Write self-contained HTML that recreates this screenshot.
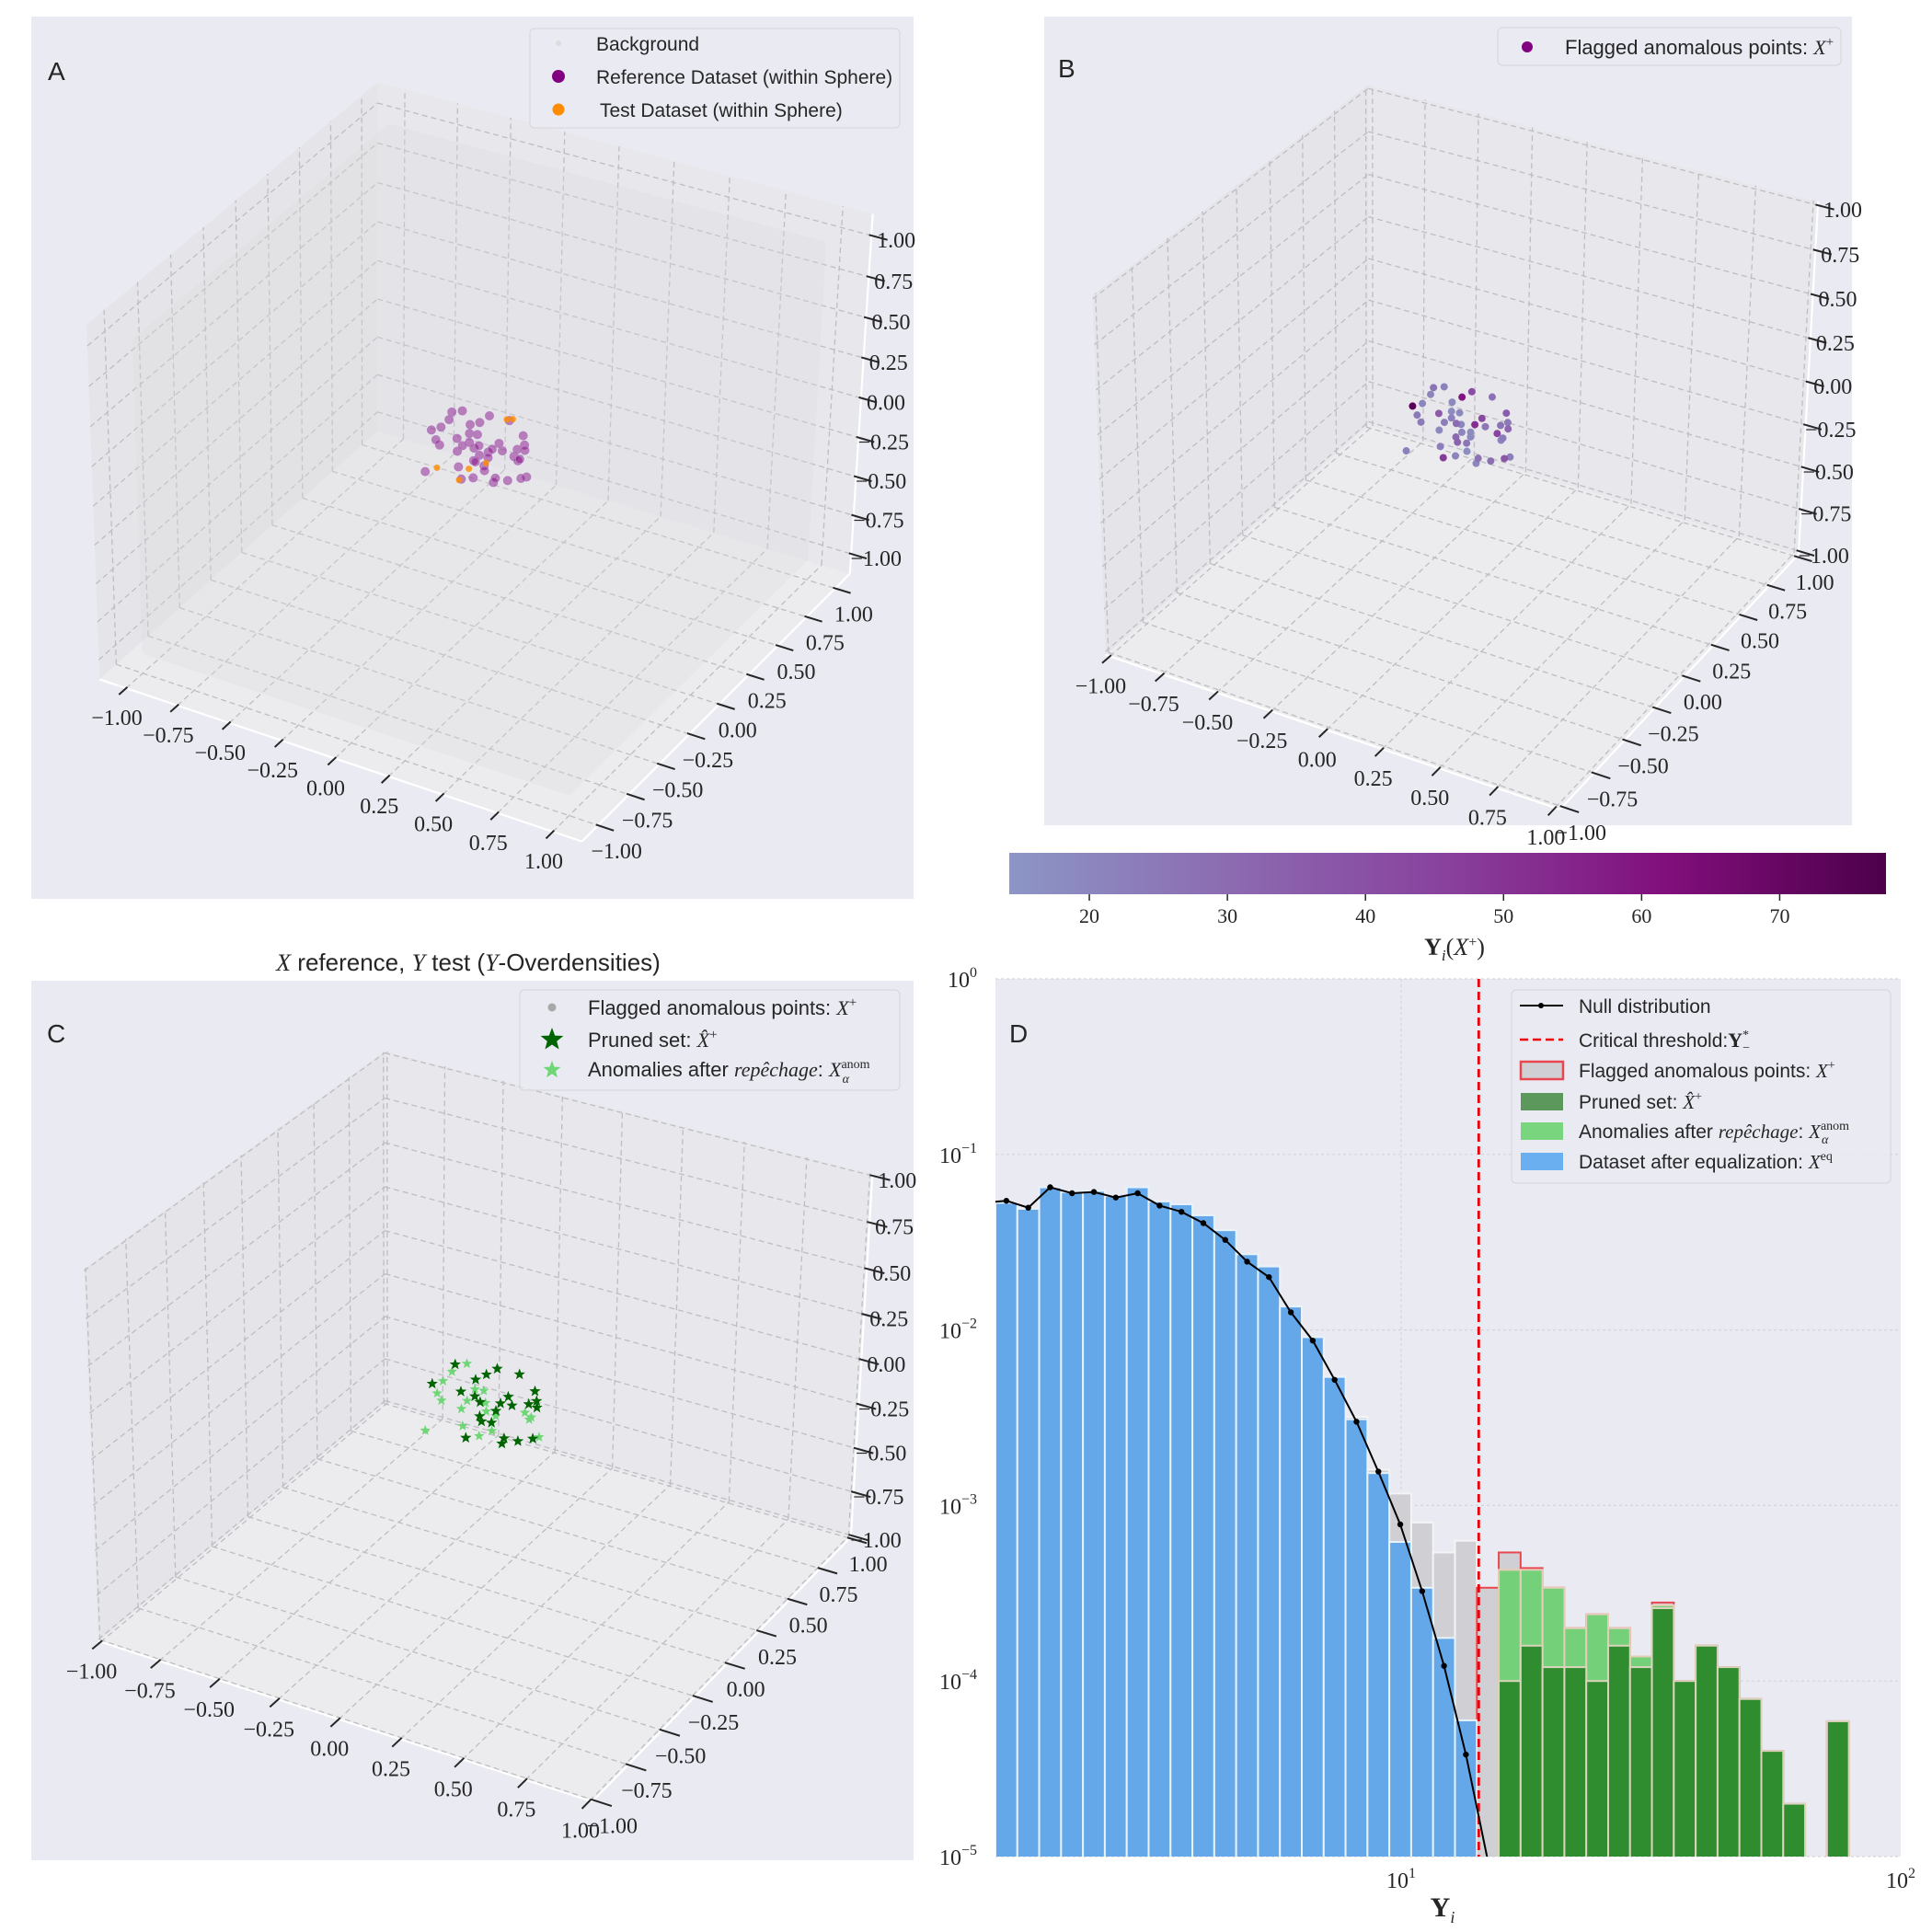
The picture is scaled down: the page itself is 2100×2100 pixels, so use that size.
<!DOCTYPE html>
<html><head><meta charset="utf-8"><style>
html,body{margin:0;padding:0;background:#fff}
svg{display:block}
.s{font-family:"Liberation Sans",sans-serif;fill:#262626}
.r{font-family:"Liberation Serif",serif;fill:#262626}
</style></head><body>
<svg id="fig" xmlns="http://www.w3.org/2000/svg" width="2100" height="2100" viewBox="0 0 2100 2100">
<defs>
<linearGradient id="bupu" x1="0" x2="1" y1="0" y2="0">
<stop offset="0" stop-color="#8c96c6"/><stop offset="0.25" stop-color="#8c6bb1"/><stop offset="0.5" stop-color="#88419d"/><stop offset="0.75" stop-color="#810f7c"/><stop offset="1" stop-color="#4d004b"/>
</linearGradient>
<clipPath id="dclip"><rect x="1082" y="1064" width="984" height="954"/></clipPath>
</defs>
<rect x="0" y="0" width="2100" height="2100" fill="#fff"/>
<rect x="34" y="18" width="959" height="959" fill="#EAEAF2"/>
<rect x="1135" y="18" width="878" height="879" fill="#EAEAF2"/>
<rect x="34" y="1066" width="959" height="956" fill="#EAEAF2"/>
<rect x="1082" y="1064" width="984" height="954" fill="#EAEAF2"/>
<g id="gA"></g>
<g id="gB"></g>
<g id="gC"></g>
<g id="gD"></g>

<text class="s" x="52" y="87" font-size="28">A</text>
<text class="s" x="1150" y="84" font-size="28">B</text>
<text class="s" x="51" y="1133" font-size="28">C</text>
<text class="s" x="1097" y="1133" font-size="28">D</text>

<text class="s" x="509" y="1055" font-size="26" text-anchor="middle"><tspan class="r" font-style="italic">X</tspan> reference, <tspan class="r" font-style="italic">Y</tspan> test (<tspan class="r" font-style="italic">Y</tspan>-Overdensities)</text>

<g>
<rect x="576" y="31" width="402" height="108" rx="5" fill="#EAEAF2" fill-opacity="0.8" stroke="#d4d4da"/>
<circle cx="607" cy="47" r="3" fill="#dcdcdc"/>
<text class="s" x="648" y="55" font-size="21">Background</text>
<circle cx="607" cy="83" r="7" fill="#800080"/>
<text class="s" x="648" y="91" font-size="21">Reference Dataset (within Sphere)</text>
<circle cx="607" cy="119" r="6.5" fill="#ff8c00"/>
<text class="s" x="652" y="127" font-size="21">Test Dataset (within Sphere)</text>
</g>
<g>
<rect x="1628" y="30" width="373" height="41" rx="5" fill="#EAEAF2" fill-opacity="0.8" stroke="#d4d4da"/>
<circle cx="1660" cy="51" r="6" fill="#800080"/>
<text class="s" x="1701" y="59" font-size="22">Flagged anomalous points: <tspan class="r" font-style="italic">X</tspan><tspan class="r" font-size="15" dy="-9">+</tspan></text>
</g>
<g id="legC">
<rect x="565" y="1076" width="413" height="109" rx="5" fill="#EAEAF2" fill-opacity="0.8" stroke="#d4d4da"/>
<circle cx="600" cy="1095" r="4.5" fill="#a8a8a8"/>
<text class="s" x="639" y="1103" font-size="22">Flagged anomalous points: <tspan class="r" font-style="italic">X</tspan><tspan class="r" font-size="15" dy="-9">+</tspan></text>
<text class="s" x="639" y="1138" font-size="22">Pruned set: <tspan class="r" font-style="italic">X̂</tspan><tspan class="r" font-size="15" dy="-9">+</tspan></text>
<text class="s" x="639" y="1170" font-size="22">Anomalies after <tspan class="r" font-style="italic">repêchage</tspan>: <tspan class="r" font-style="italic">X</tspan><tspan class="r" font-size="14" dy="-9">anom</tspan><tspan class="r" font-size="14" dx="-30" dy="16" font-style="italic">α</tspan></text>
</g>
<g id="cbar">
<rect x="1097" y="927" width="953" height="45" fill="url(#bupu)"/>
<text class="r" x="1581" y="1038" font-size="26" text-anchor="middle" font-weight="bold">Υ<tspan font-size="17" dy="6" font-style="italic" font-weight="normal">i</tspan><tspan dy="-6" font-weight="normal">(</tspan><tspan font-style="italic" font-weight="normal">X</tspan><tspan font-size="16" dy="-9" font-weight="normal">+</tspan><tspan dy="9" font-weight="normal">)</tspan></text>
</g>
<g>
<rect x="1643" y="1076" width="412" height="210" rx="5" fill="#EAEAF2" fill-opacity="0.8" stroke="#d4d4da"/>
<line x1="1652" y1="1093" x2="1699" y2="1093" stroke="#000" stroke-width="2"/><circle cx="1675" cy="1093" r="3" fill="#000"/>
<text class="s" x="1716" y="1101" font-size="21">Null distribution</text>
<line x1="1652" y1="1130" x2="1699" y2="1130" stroke="#e8000b" stroke-width="2.5" stroke-dasharray="9,5"/>
<text class="s" x="1716" y="1138" font-size="21">Critical threshold:<tspan class="r" font-weight="bold" font-size="22">Υ</tspan><tspan class="r" font-size="14" dy="-9">*</tspan><tspan class="r" font-size="14" dx="-7" dy="14">−</tspan></text>
<rect x="1653" y="1154" width="46" height="19" fill="#d0d0d4" stroke="#e8474f" stroke-width="2.5"/>
<text class="s" x="1716" y="1171" font-size="21">Flagged anomalous points: <tspan class="r" font-style="italic">X</tspan><tspan class="r" font-size="14" dy="-9">+</tspan></text>
<rect x="1653" y="1188" width="46" height="19" fill="#5c985c"/>
<text class="s" x="1716" y="1205" font-size="21">Pruned set: <tspan class="r" font-style="italic">X̂</tspan><tspan class="r" font-size="14" dy="-9">+</tspan></text>
<rect x="1653" y="1220" width="46" height="19" fill="#79d67e"/>
<text class="s" x="1716" y="1237" font-size="21">Anomalies after <tspan class="r" font-style="italic">repêchage</tspan>: <tspan class="r" font-style="italic">X</tspan><tspan class="r" font-size="14" dy="-9">anom</tspan><tspan class="r" font-size="14" dx="-30" dy="15" font-style="italic">α</tspan></text>
<rect x="1653" y="1253" width="46" height="19" fill="#6aaff0"/>
<text class="s" x="1716" y="1270" font-size="21">Dataset after equalization: <tspan class="r" font-style="italic">X</tspan><tspan class="r" font-size="14" dy="-9">eq</tspan></text>
</g>
</svg>
<script>
const axisTicks = [-1,-0.75,-0.5,-0.25,0,0.25,0.5,0.75,1];
const axisTickLabels = ["−1.00","−0.75","−0.50","−0.25","0.00","0.25","0.50","0.75","1.00"];
const refX = [0.02,-0.12,0.15,0.08,-0.05,0.18,-0.17,0.11,-0.02,0.06,-0.14,0.13,-0.09,0.04,0.19,-0.19,0.09,-0.07,0.16,-0.11,0.01,-0.16,0.12,0.05,-0.03,0.14,-0.13,0.07,-0.08,0.17,-0.18,0.10,-0.01,0.03,-0.15,0.20,-0.06,0.11,-0.10,0.00,0.15,-0.04,0.08,-0.12,0.13];
const refY = [-0.10,0.05,0.12,-0.17,0.18,-0.02,0.09,0.14,-0.13,0.03,-0.06,-0.11,0.16,0.19,0.07,-0.04,-0.19,0.11,-0.08,0.13,0.00,-0.14,0.04,-0.07,0.15,0.10,0.17,-0.15,-0.01,0.06,0.02,-0.12,0.08,-0.18,0.14,-0.03,0.12,0.18,-0.16,0.09,-0.09,-0.05,0.01,-0.02,0.16];
const refZ = [0.14,-0.08,0.02,0.10,-0.15,0.06,0.12,-0.11,0.17,-0.19,0.03,0.15,-0.04,0.08,-0.13,0.09,0.01,-0.17,0.13,-0.02,0.19,-0.09,-0.16,0.05,0.11,-0.06,0.00,0.16,-0.12,-0.14,0.07,0.04,-0.18,-0.03,0.10,0.12,-0.07,0.02,0.15,-0.10,0.18,0.06,-0.14,0.17,-0.05];
const testX = [0.05,-0.14,0.12,-0.06,0.02,0.10];
const testY = [0.15,-0.08,-0.14,0.04,-0.18,0.11];
const testZ = [0.12,-0.10,0.08,-0.16,-0.04,0.17];
const flaggedVals = [22,19,25,31,18,45,27,21,36,20,24,52,19,28,23,74,21,33,26,18,60,22,29,20,41,24,19,30,23,38,21,26,17,48,22,27,20,35,25,19,43,23,28,21,32];
const prunedIdx = [0,2,4,6,8,11,13,15,17,20,22,24,26,29,31,33,35,37,40,42,44,3,9,18,27];
const repechIdx = [1,5,7,10,12,14,16,19,21,23,25,28,30,32,34,36,38,39,41,43];
const binLogStart = 0.188, binLogWidth = 0.0438;
const blueVals = [0.053,0.049,0.065,0.061,0.062,0.058,0.065,0.054,0.052,0.045,0.037,0.027,0.023,0.0136,0.0091,0.0054,0.0031,0.00153,0.00062,0.00034,0.000176,0.0000597];
const flaggedHist = [0.053,0.049,0.065,0.061,0.062,0.058,0.065,0.054,0.052,0.045,0.037,0.027,0.023,0.0136,0.0091,0.0054,0.0032,0.0016,0.00117,0.0008,0.00054,0.00063,0.00034,0.00054,0.00044,0.00034,0.0002,0.00024,0.0002,0.000138,0.00028,0.0001,0.000159,0.00012,0.000079,0.00004,0.00002,0,0.000059];
const lightHist = [0,0,0,0,0,0,0,0,0,0,0,0,0,0,0,0,0,0,0,0,0,0,0,0.00043,0.00043,0.00034,0.0002,0.00024,0.0002,0.000138,0.00027,0,0,0,0,0,0,0,0];
const darkHist = [0,0,0,0,0,0,0,0,0,0,0,0,0,0,0,0,0,0,0,0,0,0,0,0.0001,0.000159,0.00012,0.00012,0.0001,0.000159,0.00012,0.00026,0.0001,0.000159,0.00012,0.000079,0.00004,0.00002,0,0.000059];
const nullBinIdx = [-1,0,1,2,3,4,5,6,7,8,9,10,11,12,13,14,15,16,17,18,19,20,21,22];
const nullVals = [0.053,0.0544,0.0497,0.065,0.0601,0.0611,0.0568,0.0601,0.0511,0.0471,0.0406,0.0326,0.0245,0.020,0.0126,0.0087,0.0052,0.0030,0.00156,0.00078,0.000325,0.000122,0.0000381,0.0000095];
const thresholdValue = 14.3;
const yDecades = [0,-1,-2,-3,-4,-5];
const xDecades = [1,2];
const cbarTicks = [20,30,40,50,60,70];
const cbarMin = 14.2, cbarMax = 77.7;

const NS="http://www.w3.org/2000/svg";
function mk(tag, attrs, parent){const e=document.createElementNS(NS,tag);for(const k in attrs)e.setAttribute(k,attrs[k]);parent.appendChild(e);return e;}
function solve(A,b){const n=b.length;for(let i=0;i<n;i++){let mx=i;for(let r=i+1;r<n;r++)if(Math.abs(A[r][i])>Math.abs(A[mx][i]))mx=r;[A[i],A[mx]]=[A[mx],A[i]];[b[i],b[mx]]=[b[mx],b[i]];for(let r=i+1;r<n;r++){const f=A[r][i]/A[i][i];for(let c=i;c<n;c++)A[r][c]-=f*A[i][c];b[r]-=f*b[i];}}const x=new Array(n).fill(0);for(let i=n-1;i>=0;i--){let s=b[i];for(let c=i+1;c<n;c++)s-=A[i][c]*x[c];x[i]=s/A[i][i];}return x;}
function fitP(corr){const rows=[],rhs=[];for(const [X,Y,Z,u,v] of corr){rows.push([X,Y,Z,1,0,0,0,0,-u*X,-u*Y,-u*Z]);rhs.push(u);rows.push([0,0,0,0,X,Y,Z,1,-v*X,-v*Y,-v*Z]);rhs.push(v);}
 const N=[],r=[];for(let i=0;i<11;i++){N.push(new Array(11).fill(0));r.push(0);}
 rows.forEach((row,k)=>{for(let i=0;i<11;i++){r[i]+=row[i]*rhs[k];for(let j=0;j<11;j++)N[i][j]+=row[i]*row[j];}});
 for(let i=0;i<11;i++)N[i][i]+=1e-9;
 return solve(N,r);}
function projF(p){return (X,Y,Z)=>{const w=p[8]*X+p[9]*Y+p[10]*Z+1;return [(p[0]*X+p[1]*Y+p[2]*Z+p[3])/w,(p[4]*X+p[5]*Y+p[6]*Z+p[7])/w];};}
function pts(a){return a.map(q=>q[0].toFixed(1)+","+q[1].toFixed(1)).join(" ");}
function hull(P){P=P.slice().sort((a,b)=>a[0]-b[0]||a[1]-b[1]);const cr=(o,a,b)=>(a[0]-o[0])*(b[1]-o[1])-(a[1]-o[1])*(b[0]-o[0]);const lo=[],up=[];for(const p of P){while(lo.length>=2&&cr(lo[lo.length-2],lo[lo.length-1],p)<=0)lo.pop();lo.push(p);}for(const p of P.slice().reverse()){while(up.length>=2&&cr(up[up.length-2],up[up.length-1],p)<=0)up.pop();up.push(p);}return lo.slice(0,-1).concat(up.slice(0,-1));}
function starPath(cx,cy,R){let d="";for(let i=0;i<10;i++){const r=i%2?R*0.42:R;const a=-Math.PI/2+i*Math.PI/5;d+=(i?"L":"M")+(cx+r*Math.cos(a)).toFixed(1)+","+(cy+r*Math.sin(a)).toFixed(1);}return d+"Z";}
function cmap(v){const stops=[[0,[140,150,198]],[0.25,[140,107,177]],[0.5,[136,65,157]],[0.75,[129,15,124]],[1,[77,0,75]]];let t=(v-cbarMin)/(cbarMax-cbarMin);t=Math.max(0,Math.min(1,t));for(let i=1;i<stops.length;i++){if(t<=stops[i][0]){const a=stops[i-1],b=stops[i];const f=(t-a[0])/(b[0]-a[0]);return "rgb("+a[1].map((c,k)=>Math.round(c+(b[1][k]-c)*f)).join(",")+")";}}return "rgb(77,0,75)";}

function panel3d(g, m, corr, name){
 const P=projF(fitP(corr));
 const panes=[
  ["left-wall",[[-m,-m,-m],[-m,m,-m],[-m,m,m],[-m,-m,m]],"#E5E5E9"],
  ["right-wall",[[-m,m,-m],[m,m,-m],[m,m,m],[-m,m,m]],"#E8E8EC"],
  ["floor",[[-m,-m,-m],[m,-m,-m],[m,m,-m],[-m,m,-m]],"#ECECEF"]];
 panes.forEach(pn=>{const e=mk("polygon",{points:pts(pn[1].map(q=>P(...q))),fill:pn[2]},g);
  
  });
 const gg=mk("g",{stroke:"#bdbdc2","stroke-width":"1.3","stroke-dasharray":"6,4",fill:"none"},g);
 
 
 axisTicks.forEach(t=>{
  const segs=[[[t,-m,-m],[t,m,-m]],[[-m,t,-m],[m,t,-m]],[[-m,t,-m],[-m,t,m]],[[-m,-m,t],[-m,m,t]],[[t,m,-m],[t,m,m]],[[-m,m,t],[m,m,t]]];
  segs.forEach(s=>{const a=P(...s[0]),b=P(...s[1]);mk("line",{x1:a[0],y1:a[1],x2:b[0],y2:b[1]},gg);});
 });
 return P;
}
function axesDecor(g,m,P,name){
 const eg=mk("g",{stroke:"#ffffff","stroke-width":"2.2"},g);
 
 
 [[[-m,-m,-m],[m,-m,-m]],[[m,-m,-m],[m,m,-m]],[[m,m,-m],[m,m,m]]].forEach(s=>{const a=P(...s[0]),b=P(...s[1]);mk("line",{x1:a[0],y1:a[1],x2:b[0],y2:b[1]},eg);});
 const tg=mk("g",{stroke:"#262626","stroke-width":"2"},g);
 
 
 const lg=mk("g",{"font-family":"Liberation Serif, serif","font-size":"24",fill:"#262626","text-anchor":"middle"},g);
 
 
 axisTicks.forEach((t,i)=>{
  let a=P(t,-m+0.01,-m),b=P(t,-m-0.055,-m);mk("line",{x1:a[0],y1:a[1],x2:b[0],y2:b[1]},tg);
  let e=P(t,-m,-m);let tx=mk("text",{x:e[0]-10,y:e[1]+40},lg);tx.textContent=axisTickLabels[i];
  
  
  a=P(m-0.01,t,-m);b=P(m+0.07,t,-m);mk("line",{x1:a[0],y1:a[1],x2:b[0],y2:b[1]},tg);
  e=P(m,t,-m);tx=mk("text",{x:e[0]+20,y:e[1]+36},lg);tx.textContent=axisTickLabels[i];
  
  
  a=P(m-0.01,m,t);b=P(m+0.07,m,t);mk("line",{x1:a[0],y1:a[1],x2:b[0],y2:b[1]},tg);
  e=P(m,m,t);tx=mk("text",{x:e[0]+27,y:e[1]+13},lg);tx.textContent=axisTickLabels[i];
  
  
 });
}

const mA=1.13;
const gA=document.getElementById("gA");
const PA=panel3d(gA,mA,[[-1,-mA,-mA,137,747],[0,-mA,-mA,366,822],[0.75,-mA,-mA,544,882],[mA,-mA,-mA,643,912],[-mA,-mA,-mA,105,737],[mA,mA,-mA,928,620],[mA,0,-mA,755,791],[mA,1,-mA,907,637],[mA,-1,-mA,658,891],[mA,mA,-1,929,598],[mA,mA,1,945,252],[-mA,mA,mA,418,91],[-mA,-mA,mA,88,355]],"panel-a");
{const corners=[];for(const x of [-1,1])for(const y of [-1,1])for(const z of [-1,1])corners.push(PA(x,y,z));
 const bg=mk("polygon",{points:pts(hull(corners)),fill:"#dcdcdf","fill-opacity":"0.3"},gA);
 
 }
refX.forEach((x,i)=>{const q=PA(x,refY[i],refZ[i]);const c=mk("circle",{cx:q[0],cy:q[1],r:4.5,fill:"#800080","fill-opacity":"0.45",stroke:"#b47cc0","stroke-width":"1"},gA);
 
 });
testX.forEach((x,i)=>{const q=PA(x,testY[i],testZ[i]);const c=mk("circle",{cx:q[0],cy:q[1],r:3.5,fill:"#ff8c00","fill-opacity":"0.8"},gA);
 
 });
axesDecor(gA,mA,PA,"panel-a");

const mB=1.02;
const gB=document.getElementById("gB");
const PB=panel3d(gB,mB,[[-1,-mB,-mB,1209,716],[0,-mB,-mB,1442,796],[1,-mB,-mB,1686,879],[mB,-1,-mB,1698,875],[mB,0,-mB,1833,734],[mB,1,-mB,1950,605],[mB,mB,1,1975,226],[mB,mB,0,1971,413],[mB,mB,-1,1955,599],[-mB,mB,mB,1485,94],[-mB,-mB,mB,1188,317],[-mB,mB,-mB,1487,460]],"panel-b");
const orderB=refX.map((_,i)=>i).sort((a,b)=>flaggedVals[a]-flaggedVals[b]);
orderB.forEach(i=>{const q=PB(refX[i],refY[i],refZ[i]);const c=mk("circle",{cx:q[0],cy:q[1],r:4,fill:cmap(flaggedVals[i])},gB);
 
 });
axesDecor(gB,mB,PB,"panel-b");

const mC=1.01;
const gC=document.getElementById("gC");
const PC=panel3d(gC,mC,[[-1,-mC,-mC,111,1785],[0,-mC,-mC,368,1872],[1,-mC,-mC,634,1958],[mC,-1,-mC,649,1955],[mC,0,-mC,793,1807],[mC,1,-mC,920,1678],[mC,mC,1,948,1281],[mC,mC,0,940,1475],[mC,mC,-1,926,1663],[-mC,mC,mC,416,1143],[-mC,-mC,mC,92,1377],[-mC,mC,-mC,419,1524]],"panel-c");
refX.forEach((x,i)=>{const q=PC(x,refY[i],refZ[i]);const c=mk("circle",{cx:q[0],cy:q[1],r:2.5,fill:"#a8a8a8","fill-opacity":"0.7"},gC);
 
 });
repechIdx.forEach(i=>{const q=PC(refX[i],refY[i],refZ[i]);const s=mk("path",{d:starPath(q[0],q[1],6),fill:"#6fd676"},gC);
 
 });
prunedIdx.forEach(i=>{const q=PC(refX[i],refY[i],refZ[i]);const s=mk("path",{d:starPath(q[0],q[1],6.5),fill:"#006400"},gC);
 
 });
axesDecor(gC,mC,PC,"panel-c");
{const lc=document.getElementById("legC");
 let s=mk("path",{d:starPath(600,1130,13),fill:"#006400"},lc);
 
 
 s=mk("path",{d:starPath(600,1163,10),fill:"#6fd676"},lc);
 
 }

{const cb=document.getElementById("cbar");const cx=v=>1097+(v-cbarMin)/(cbarMax-cbarMin)*953;
 cbarTicks.forEach(v=>{const x=cx(v);mk("line",{x1:x,y1:972,x2:x,y2:979,stroke:"#262626","stroke-width":"1.5"},cb);
  const t=mk("text",{x:x,y:1003,"font-family":"Liberation Serif, serif","font-size":"22",fill:"#262626","text-anchor":"middle"},cb);t.textContent=String(v);
  
  });}

const gD=document.getElementById("gD");
const dL=1082,dR=2066,dT=1064,dB=2018,logMin=0.188,logMax=2.0;
const xs=l=>dL+(l-logMin)/(logMax-logMin)*(dR-dL);
const ys=v=>dT+(-Math.log10(v))/5*(dB-dT);
{const gg=mk("g",{stroke:"#d4d4da","stroke-width":"1.2","stroke-dasharray":"3,3"},gD);
 
 
 yDecades.forEach(d=>{const y=ys(Math.pow(10,d));mk("line",{x1:dL,y1:y,x2:dR,y2:y},gg);});
 mk("line",{x1:xs(1),y1:dT,x2:xs(1),y2:dB},gg);}
const bars=mk("g",{"clip-path":"url(#dclip)"},gD);


function drawHist(arr,fill,stroke,sw,nm,strokeFn){arr.forEach((v,k)=>{if(!v)return;const x0=xs(binLogStart+k*binLogWidth),x1=xs(binLogStart+(k+1)*binLogWidth);const y=ys(v);
 const r=mk("rect",{x:x0,y:y,width:x1-x0,height:dB-y+3,fill:fill,stroke:strokeFn?strokeFn(k):stroke,"stroke-width":sw},bars);
 
 });}
drawHist(flaggedHist,"#d0d0d4","#ffffff","2","bar-flagged",k=>k>=22?"#e8474f":"#f4f4f6");
drawHist(lightHist,"#74d17a","#e6cdb8","2","bar-repechage");
drawHist(darkHist,"#2f8c2f","#dcd3bd","2","bar-pruned");
drawHist(blueVals,"#64a8ea","#e8f2fb","2","bar-equalized");
{const thx=xs(Math.log10(thresholdValue));const l=mk("line",{x1:thx,y1:dT,x2:thx,y2:dB,stroke:"#e8000b","stroke-width":"2.8","stroke-dasharray":"9,5"},gD);
 
 }
{const ng=mk("g",{"clip-path":"url(#dclip)"},gD);
 
 
 const P=nullBinIdx.map((k,i)=>[xs(binLogStart+(k+0.5)*binLogWidth),ys(nullVals[i])]);
 mk("polyline",{points:pts(P),fill:"none",stroke:"#000","stroke-width":"2"},ng);
 P.forEach(p=>{const c=mk("circle",{cx:p[0],cy:p[1],r:3.2,fill:"#000"},ng);
  
  });}
{const lg=mk("g",{"font-family":"Liberation Serif, serif",fill:"#262626"},gD);
 
 
 yDecades.forEach(d=>{const y=ys(Math.pow(10,d));const t=mk("text",{x:1062,y:y+9,"font-size":"24","text-anchor":"end"},lg);
  t.innerHTML='10<tspan font-size="16" dy="-11">'+(d===0?"0":"−"+(-d))+'</tspan>';
  
  });
 xDecades.forEach(d=>{const x=xs(d);const t=mk("text",{x:x,y:2052,"font-size":"24","text-anchor":"middle"},lg);
  t.innerHTML='10<tspan font-size="16" dy="-11">'+d+'</tspan>';
  
  });
 const xl=mk("text",{x:1568,y:2083,"font-size":"30","font-weight":"bold","text-anchor":"middle"},lg);
 xl.innerHTML='Υ<tspan font-size="18" dy="7" font-style="italic" font-weight="normal">i</tspan>';
 
 }
</script>
</body></html>
